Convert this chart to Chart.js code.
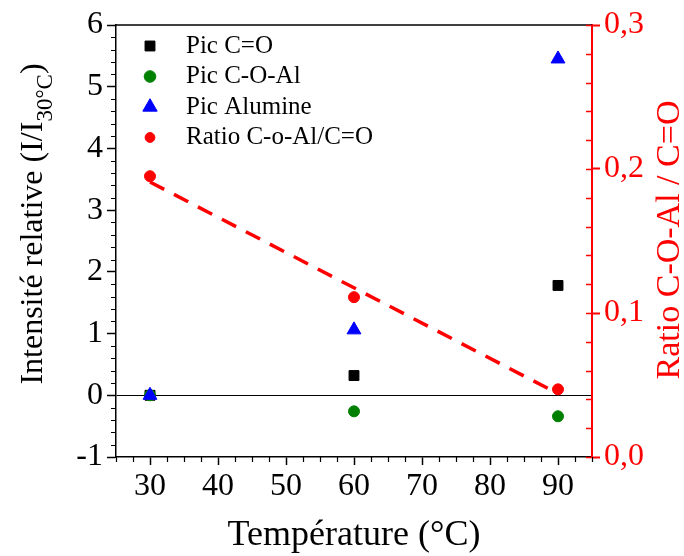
<!DOCTYPE html>
<html>
<head>
<meta charset="utf-8">
<script src="https://cdn.jsdelivr.net/npm/chart.js@4.4.0/dist/chart.umd.min.js"></script>
<style>
  html, body { margin: 0; padding: 0; background: #fff; }
  #wrap { width: 684px; height: 556px; }
</style>
</head>
<body>
<div id="wrap"><canvas id="chart" width="684" height="556"></canvas></div>
<script>
// --- Data ---
const temperatures = [30, 60, 90];
const picCO = [0, 0.32, 1.78];
const picCOAl = [0, -0.26, -0.34];
const picAlumine = [0, 1.06, 5.45];
const ratioCOAl = [0.195, 0.111, 0.047];
const fitTemps = [30, 90];
const fitRatio = [0.191, 0.044];

// --- Tick labels ---
const xTicks = [30, 40, 50, 60, 70, 80, 90];
const yTicks = [-1, 0, 1, 2, 3, 4, 5, 6];
const y1Ticks = [0, 0.1, 0.2, 0.3];

const SERIF = '"Liberation Serif", "DejaVu Serif", serif';
const RED = '#ff0000';

function points(xs, ys) {
    return xs.map((x, i) => ({ x: x, y: ys[i] }));
}

// legend entries (drawn inside the plot, top left)
const legendItems = [
    { label: 'Pic C=O', style: 'rect', color: '#000000', radius: 7 },
    { label: 'Pic C-O-Al', style: 'circle', color: '#008000', radius: 5.8 },
    { label: 'Pic Alumine', style: 'triangle', color: '#0000ff', radius: 8.3 },
    { label: 'Ratio C-o-Al/C=O', style: 'circle', color: RED, radius: 4.9 }
];

function minorValues(min, max, step, majorStep) {
    const out = [];
    const n = Math.round((max - min) / step);
    for (let i = 0; i <= n; i++) {
        const v = min + i * step;
        const r = v / majorStep;
        if (Math.abs(r - Math.round(r)) > 1e-6) out.push(v);
    }
    return out;
}

function drawMarker(ctx, style, radius, x, y) {
    if (Chart.helpers && Chart.helpers.drawPoint) {
        Chart.helpers.drawPoint(ctx, { pointStyle: style, radius: radius, rotation: 0, borderWidth: 1 }, x, y);
        return;
    }
    ctx.beginPath();
    ctx.arc(x, y, radius, 0, Math.PI * 2);
    ctx.fill();
}

const decorPlugin = {
    id: 'decor',
    afterDraw(chart) {
        const ctx = chart.ctx;
        const area = chart.chartArea;
        const sx = chart.scales.x, sy = chart.scales.y, sy1 = chart.scales.y1;
        ctx.save();

        // top frame line
        ctx.strokeStyle = '#000';
        ctx.lineWidth = 1.5;
        ctx.beginPath();
        ctx.moveTo(area.left, area.top);
        ctx.lineTo(area.right, area.top);
        ctx.stroke();

        // minor ticks, bottom axis
        ctx.lineWidth = 1.2;
        ctx.beginPath();
        minorValues(25, 95, 2.5, 10).forEach(v => {
            const px = Math.round(sx.getPixelForValue(v)) + 0.5;
            ctx.moveTo(px, area.bottom);
            ctx.lineTo(px, area.bottom + 5);
        });
        // minor ticks, left axis
        minorValues(-1, 6, 0.2, 1).forEach(v => {
            const py = Math.round(sy.getPixelForValue(v)) + 0.5;
            ctx.moveTo(area.left - 5, py);
            ctx.lineTo(area.left, py);
        });
        ctx.stroke();

        // right axis: minor ticks inward, major ticks also crossing inward
        ctx.strokeStyle = RED;
        ctx.lineWidth = 1.5;
        ctx.beginPath();
        minorValues(0, 0.3, 0.02, 0.1).concat(y1Ticks).forEach(v => {
            const py = Math.round(sy1.getPixelForValue(v)) + 0.5;
            ctx.moveTo(area.right - 6, py);
            ctx.lineTo(area.right, py);
        });
        ctx.stroke();

        // left axis title with subscript
        ctx.fillStyle = '#000';
        ctx.textBaseline = 'alphabetic';
        ctx.textAlign = 'left';
        const mainFont = '32px ' + SERIF;
        const subFont = '23px ' + SERIF;
        const t1 = 'Intensité relative (I/I', t2 = '30°C', t3 = ')';
        ctx.font = mainFont;
        const w1 = ctx.measureText(t1).width, w3 = ctx.measureText(t3).width;
        ctx.font = subFont;
        const w2 = ctx.measureText(t2).width;
        const total = w1 + w2 + w3;
        ctx.save();
        ctx.translate(42, 224);
        ctx.rotate(-Math.PI / 2);
        let cx = -total / 2;
        ctx.font = mainFont;
        ctx.fillText(t1, cx, 0);
        cx += w1;
        ctx.font = subFont;
        ctx.fillText(t2, cx, 10);
        cx += w2;
        ctx.font = mainFont;
        ctx.fillText(t3, cx, 0);
        ctx.restore();

        // right axis title (reads bottom to top)
        ctx.save();
        ctx.fillStyle = RED;
        ctx.font = '34px ' + SERIF;
        ctx.textAlign = 'center';
        ctx.translate(679, 240);
        ctx.rotate(-Math.PI / 2);
        ctx.fillText('Ratio C-O-Al / C=O', 0, 0);
        ctx.restore();

        // legend
        ctx.font = '25px ' + SERIF;
        ctx.textBaseline = 'middle';
        ctx.textAlign = 'left';
        legendItems.forEach((item, i) => {
            const y = area.top + 21 + i * 30.5;
            ctx.fillStyle = item.color;
            ctx.strokeStyle = item.color;
            ctx.lineWidth = 1;
            drawMarker(ctx, item.style, item.radius, area.left + 34, y);
            ctx.fillStyle = '#000';
            ctx.fillText(item.label, area.left + 70, y);
        });

        ctx.restore();
    }
};

const ctx = document.getElementById('chart').getContext('2d');
const chart = new Chart(ctx, {
    type: 'scatter',
    data: {
        datasets: [
            {
                label: 'Pic C=O',
                data: points(temperatures, picCO),
                yAxisID: 'y',
                pointStyle: 'rect',
                pointRadius: 7,
                backgroundColor: '#000000',
                borderColor: '#000000',
                borderWidth: 1,
                order: 3
            },
            {
                label: 'Pic C-O-Al',
                data: points(temperatures, picCOAl),
                yAxisID: 'y',
                pointStyle: 'circle',
                pointRadius: 5.5,
                backgroundColor: '#008000',
                borderColor: '#008000',
                borderWidth: 1,
                order: 2
            },
            {
                label: 'Pic Alumine',
                data: points(temperatures, picAlumine),
                yAxisID: 'y',
                pointStyle: 'triangle',
                pointRadius: 8,
                backgroundColor: '#0000ff',
                borderColor: '#0000ff',
                borderWidth: 1,
                order: 1
            },
            {
                label: 'Ratio C-o-Al/C=O',
                data: points(temperatures, ratioCOAl),
                yAxisID: 'y1',
                pointStyle: 'circle',
                pointRadius: 5.5,
                backgroundColor: RED,
                borderColor: RED,
                borderWidth: 1,
                order: 0
            },
            {
                label: 'Fit',
                data: points(fitTemps, fitRatio),
                yAxisID: 'y1',
                showLine: true,
                borderColor: RED,
                borderWidth: 3.5,
                borderDash: [16, 11],
                pointRadius: 0,
                fill: false,
                order: 5
            }
        ]
    },
    options: {
        responsive: false,
        animation: false,
        layout: { padding: { top: 25, left: 0, right: 0, bottom: 0 } },
        plugins: {
            legend: { display: false },
            tooltip: { enabled: false }
        },
        scales: {
            x: {
                type: 'linear',
                min: 25,
                max: 95,
                afterBuildTicks: s => { s.ticks = xTicks.map(v => ({ value: v })); },
                afterFit: s => { s.height = 99; },
                border: { color: '#000', width: 1.5 },
                grid: { drawOnChartArea: false, tickLength: 8, tickColor: '#000', tickWidth: 1.5 },
                ticks: {
                    font: { family: SERIF, size: 32 },
                    color: '#000',
                    padding: 2,
                    maxRotation: 0,
                    callback: v => String(v)
                },
                title: {
                    display: true,
                    text: 'Température (°C)',
                    font: { family: SERIF, size: 36, lineHeight: 1 },
                    color: '#000',
                    padding: { top: 0, bottom: 2 }
                }
            },
            y: {
                position: 'left',
                min: -1,
                max: 6,
                afterBuildTicks: s => { s.ticks = yTicks.map(v => ({ value: v })); },
                afterFit: s => { s.width = 116; },
                border: { color: '#000', width: 1.5 },
                grid: {
                    color: c => (c.tick && c.tick.value === 0) ? '#000' : 'rgba(0,0,0,0)',
                    lineWidth: 1,
                    tickLength: 9,
                    tickColor: '#000',
                    tickWidth: 1.5
                },
                ticks: {
                    font: { family: SERIF, size: 32 },
                    color: '#000',
                    padding: 4,
                    callback: v => String(v)
                }
            },
            y1: {
                position: 'right',
                min: 0,
                max: 0.3,
                afterBuildTicks: s => { s.ticks = y1Ticks.map(v => ({ value: v })); },
                afterFit: s => { s.width = 92; },
                border: { color: RED, width: 2 },
                grid: { drawOnChartArea: false, tickLength: 8, tickColor: RED, tickWidth: 2 },
                ticks: {
                    font: { family: SERIF, size: 32 },
                    color: RED,
                    padding: 4,
                    callback: v => v.toFixed(1).replace('.', ',')
                }
            }
        }
    },
    plugins: [decorPlugin]
});
</script>
</body>
</html>
